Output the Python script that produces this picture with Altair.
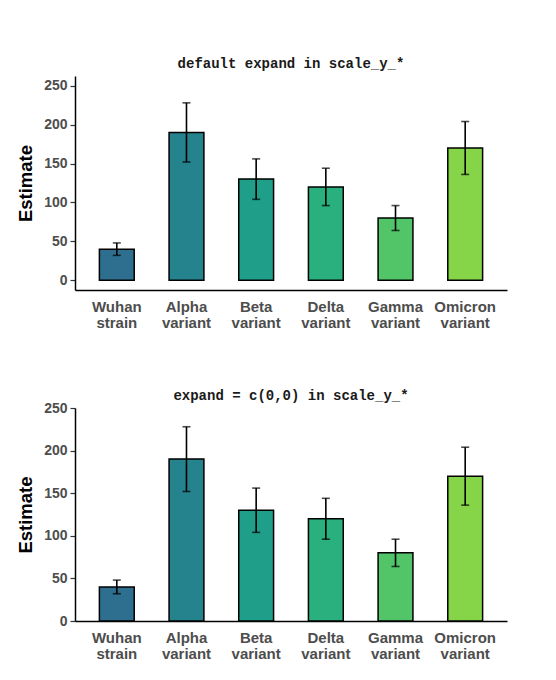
import altair as alt
import pandas as pd

categories = ["Wuhan strain", "Alpha variant", "Beta variant", "Delta variant", "Gamma variant", "Omicron variant"]
estimates = [40, 190, 130, 120, 80, 170]
lower = [32, 152, 104, 96, 64, 136]
upper = [48, 228, 156, 144, 96, 204]
colors = ["#2E6E8E", "#25838E", "#1F9E89", "#2AB07F", "#52C569", "#86D549"]
y_ticks = [0, 50, 100, 150, 200, 250]

df = pd.DataFrame({"variant": categories, "Estimate": estimates, "lo": lower, "hi": upper})

FONT = "Liberation Sans"
MONO = "Courier New, Liberation Mono, monospace"


def panel(title, domain, height, title_offset):
    xenc = alt.X("variant:N", sort=categories, title=None,
                 scale=alt.Scale(paddingInner=0.5, paddingOuter=0.35),
                 axis=alt.Axis(labelExpr="split(datum.value, ' ')", labelAngle=0,
                               labelFont=FONT, labelFontWeight="bold", labelFontSize=15,
                               labelColor="#4D4D4D", labelLineHeight=16, labelPadding=9,
                               ticks=False, domainColor="black", domainWidth=1.5,
                               labelBaseline="top"))
    yscale = alt.Scale(domain=domain, nice=False, zero=False)
    yaxis = alt.Axis(values=y_ticks, grid=False, labelFont=FONT, labelFontWeight="bold",
                     labelFontSize=14, labelColor="#4D4D4D", tickColor="#333333",
                     tickSize=5, tickWidth=1.2, labelPadding=3, domainColor="black",
                     domainWidth=1.5, titleFont=FONT, titleFontSize=18.5,
                     titleFontWeight="bold", titleColor="black", titlePadding=8)
    base = alt.Chart(df)
    bars = base.mark_bar(stroke="black", strokeWidth=1.5).encode(
        x=xenc,
        y=alt.Y("Estimate:Q", scale=yscale, axis=yaxis, title="Estimate"),
        y2=alt.Y2(datum=0),
        color=alt.Color("variant:N", sort=categories,
                        scale=alt.Scale(domain=categories, range=colors), legend=None),
    )
    rule = base.mark_rule(color="black", strokeWidth=1.6).encode(
        x=alt.X("variant:N", sort=categories),
        y=alt.Y("lo:Q"), y2="hi:Q")
    cap_lo = base.mark_tick(color="black", thickness=1.6, size=8).encode(
        x=alt.X("variant:N", sort=categories), y=alt.Y("lo:Q"))
    cap_hi = base.mark_tick(color="black", thickness=1.6, size=8).encode(
        x=alt.X("variant:N", sort=categories), y=alt.Y("hi:Q"))
    return alt.layer(bars, rule, cap_lo, cap_hi).properties(
        width=432, height=height,
        title=alt.TitleParams(title, font=MONO, fontSize=14, fontWeight="bold",
                              color="#1A1A1A", anchor="middle", offset=title_offset),
    )


top = panel("default expand in scale_y_*", [-12.5, 262.5], 214, 5)
bottom = panel("expand = c(0,0) in scale_y_*", [0, 250], 213, -2)

chart = alt.vconcat(top, bottom, spacing=59).properties(
    padding={"left": 8, "top": 49, "right": 10, "bottom": 10}
).configure(background="white", view=alt.ViewConfig(strokeWidth=0, stroke=None))

chart.save("out.html", embed_options={"renderer": "svg", "actions": False})
